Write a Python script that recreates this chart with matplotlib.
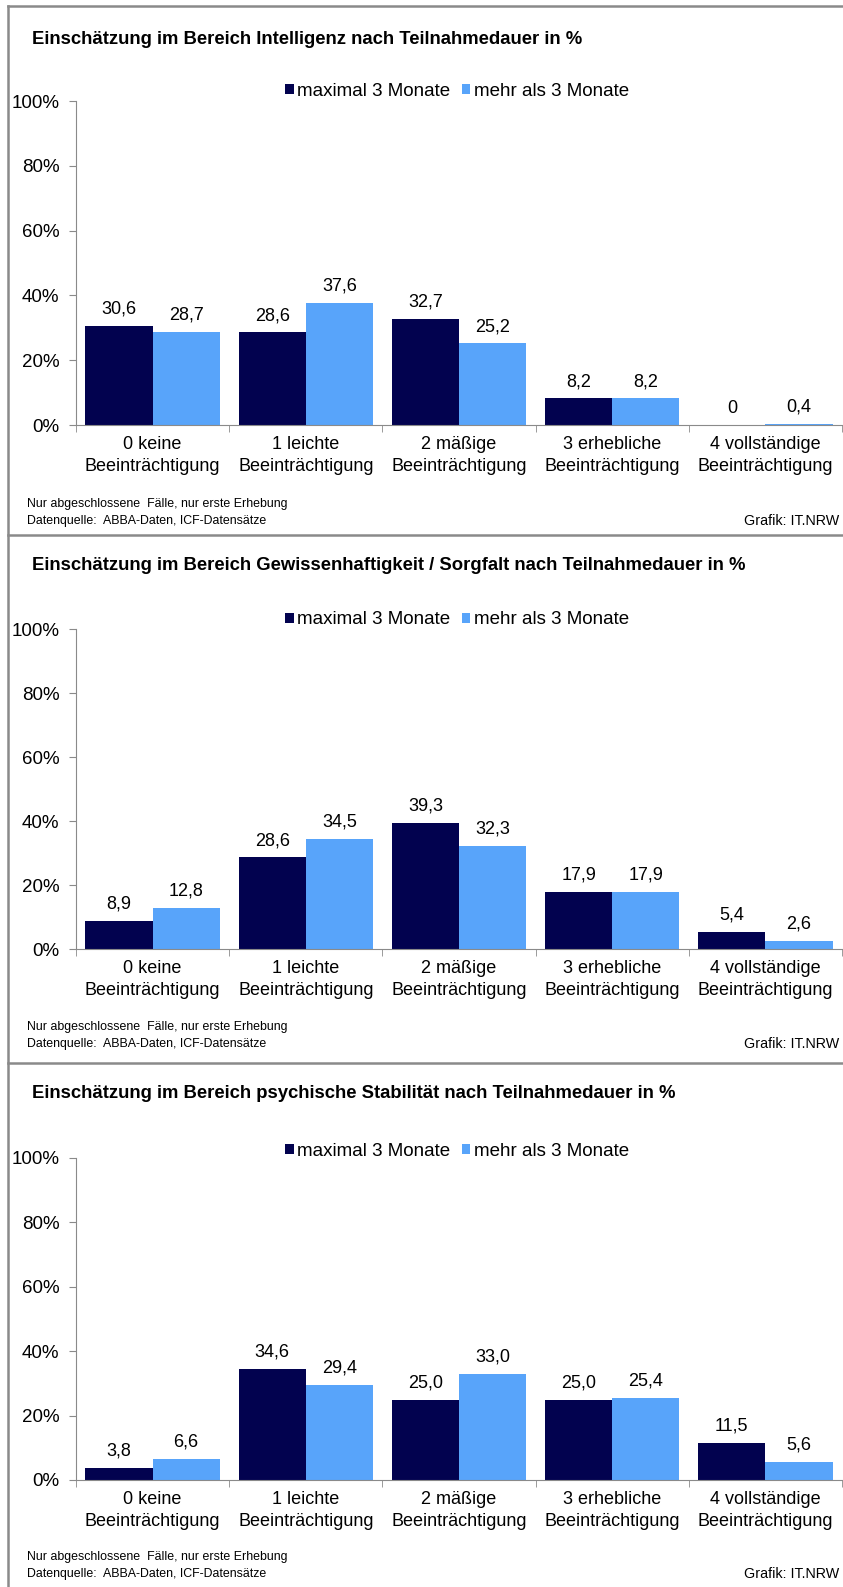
import numpy as np
import matplotlib
matplotlib.use('Agg')
import matplotlib.pyplot as plt
from matplotlib.lines import Line2D

plt.rcParams['font.family'] = ['Liberation Sans', 'DejaVu Sans']

categories = ["0 keine\nBeeinträchtigung", "1 leichte\nBeeinträchtigung", "2 mäßige\nBeeinträchtigung",
              "3 erhebliche\nBeeinträchtigung", "4 vollständige\nBeeinträchtigung"]
series_names = ["maximal 3 Monate", "mehr als 3 Monate"]

titles = ["Einschätzung im Bereich Intelligenz nach Teilnahmedauer in %",
          "Einschätzung im Bereich Gewissenhaftigkeit / Sorgfalt nach Teilnahmedauer in %",
          "Einschätzung im Bereich psychische Stabilität nach Teilnahmedauer in %"]

intelligenz_kurz = [30.6, 28.6, 32.7, 8.2, 0]
intelligenz_lang = [28.7, 37.6, 25.2, 8.2, 0.4]
sorgfalt_kurz = [8.9, 28.6, 39.3, 17.9, 5.4]
sorgfalt_lang = [12.8, 34.5, 32.3, 17.9, 2.6]
stabil_kurz = [3.8, 34.6, 25.0, 25.0, 11.5]
stabil_lang = [6.6, 29.4, 33.0, 25.4, 5.6]

note1 = "Nur abgeschlossene  Fälle, nur erste Erhebung"
note2 = "Datenquelle:  ABBA-Daten, ICF-Datensätze"
credit = "Grafik: IT.NRW"

dark = "#02024f"
light = "#58a4fa"
grey = "#8a8a8a"

W, H = 843, 1587
fig = plt.figure(figsize=(W / 100, H / 100), dpi=100)

# pixel layout per panel: (title y, legend y, 100% y, 0% y, note1 y, note2 y)
layout = [(40, 91, 101, 425, 504, 521),
          (566, 620, 629, 949, 1027, 1044),
          (1094, 1151, 1158, 1480, 1557, 1574)]
data = [(intelligenz_kurz, intelligenz_lang),
        (sorgfalt_kurz, sorgfalt_lang),
        (stabil_kurz, stabil_lang)]


def fy(y):
    return 1 - y / H


def fmt(v):
    return "0" if v == 0 else "{:.1f}".format(v).replace(".", ",")


x = np.arange(len(categories))
bw = 0.438
for (ty, ly, y100, y0, n1, n2), (s1, s2), title in zip(layout, data, titles):
    ax = fig.add_axes([76 / W, fy(y0), (842 - 76) / W, (y0 - y100) / H])
    b1 = ax.bar(x - bw / 2, s1, bw, color=dark, label=series_names[0])
    b2 = ax.bar(x + bw / 2, s2, bw, color=light, label=series_names[1])
    for bars, vals in ((b1, s1), (b2, s2)):
        for b, v in zip(bars, vals):
            ax.annotate(fmt(v), (b.get_x() + b.get_width() / 2, v), xytext=(0, 6),
                        textcoords="offset points", ha="center", va="bottom", fontsize=13)
    ax.set_xlim(-0.5, 4.5)
    ax.set_ylim(0, 100)
    ax.set_yticks(range(0, 101, 20))
    ax.set_yticklabels(["{}%".format(t) for t in range(0, 101, 20)])
    ax.set_xticks(x)
    ax.set_xticklabels(categories, linespacing=1.4)
    ax.set_xticks(np.arange(-0.5, 5, 1), minor=True)
    ax.tick_params(axis="x", which="major", length=0, pad=8, labelsize=13)
    ax.tick_params(axis="x", which="minor", length=5, color=grey, direction="out")
    ax.tick_params(axis="y", length=5, color=grey, pad=7, labelsize=13.5)
    for s in ("top", "right"):
        ax.spines[s].set_visible(False)
    for s in ("left", "bottom"):
        ax.spines[s].set_color(grey)
    fig.legend(handles=[b1, b2], loc="center", bbox_to_anchor=(457 / W, fy(ly)), ncol=2,
               frameon=False, fontsize=13.5, handlelength=0.45, handleheight=0.45,
               handletextpad=0.2, columnspacing=0.6)
    fig.text(32 / W, fy(ty), title, fontsize=13.3, fontweight="bold", va="center")
    fig.text(27 / W, fy(n1), note1, fontsize=8.9, va="center")
    fig.text(27 / W, fy(n2), note2, fontsize=8.9, va="center")
    fig.text(839 / W, fy(n2), credit, fontsize=10.3, va="center", ha="right")

# panel frames
for yy in (6, 535, 1063):
    fig.add_artist(Line2D([8 / W, 1], [fy(yy), fy(yy)], color=grey, lw=1.8))
fig.add_artist(Line2D([8 / W, 8 / W], [0, fy(6)], color=grey, lw=1.8))

fig.savefig("out.png", dpi=100)
